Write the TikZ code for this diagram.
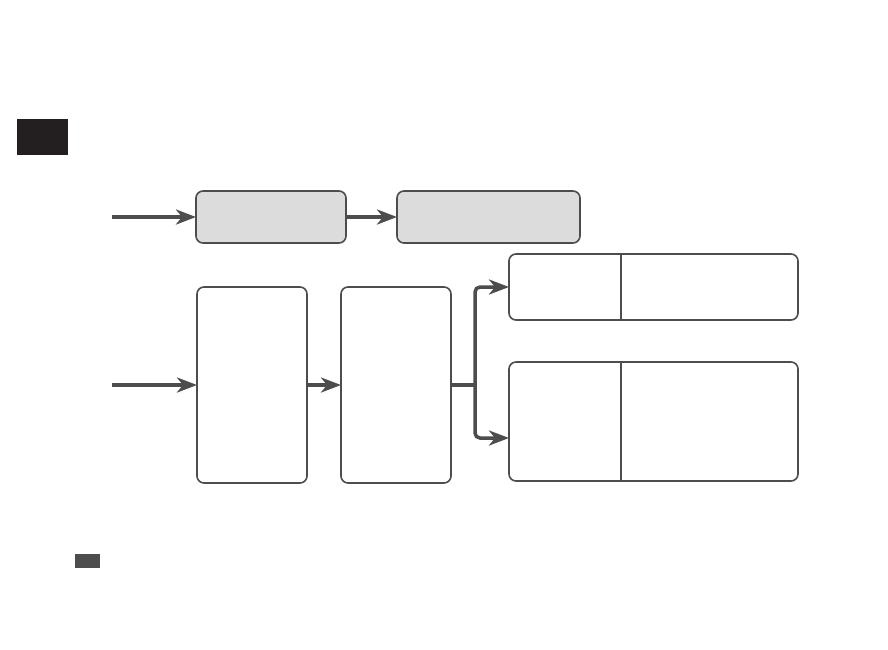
\documentclass[tikz,border=0pt]{standalone}
\usepackage{tikz}
\usetikzlibrary{arrows.meta}

\definecolor{linegray}{HTML}{4D4D4D}
\definecolor{boxgray}{HTML}{DCDCDC}
\definecolor{tabblack}{HTML}{231F20}

\tikzset{
  box/.style={shape=rectangle,draw=linegray,line width=1.6pt,rounded corners=7pt,inner sep=0pt,outer sep=0pt},
  flow/.style={draw=linegray,line width=3.5pt,-{Stealth[length=20pt,width=15pt,inset=6pt]}}
}

\begin{document}
\begin{tikzpicture}[x=1pt,y=-1pt]
\useasboundingbox (0,0) rectangle (888,649);
\path node (tab) at (42.5,137) [shape=rectangle,fill=tabblack,minimum width=51pt,minimum height=36pt,inner sep=0pt] {}
      node (mark) at (87.5,561) [shape=rectangle,fill=linegray,minimum width=25pt,minimum height=14pt,inner sep=0pt] {}
      node (a) at (271,217) [box,fill=boxgray,minimum width=150pt,minimum height=52pt] {}
      node (b) at (488.5,217) [box,fill=boxgray,minimum width=183pt,minimum height=52pt] {}
      node (c) at (252,385) [box,fill=white,minimum width=110pt,minimum height=196pt] {}
      node (d) at (396,385) [box,fill=white,minimum width=110pt,minimum height=196pt] {}
      node (e) at (653.5,287) [box,fill=white,minimum width=289pt,minimum height=66pt] {}
      node (f) at (653.5,421.5) [box,fill=white,minimum width=289pt,minimum height=119pt] {};
\coordinate (ina) at (112,217);
\coordinate (inc) at (112,385);
\coordinate (split) at (475,385);
% dividers
\draw [linegray,line width=1.6pt] ([xshift=112pt]e.north west) -- ([xshift=112pt]e.south west);
\draw [linegray,line width=1.6pt] ([xshift=112pt]f.north west) -- ([xshift=112pt]f.south west);
% arrows
\draw [flow] (ina) to (a.west);
\draw [flow] (a) to (b);
\draw [flow] (inc) to (c.west);
\draw [flow] (c) to (d);
\draw [draw=linegray,line width=3.5pt] (d.east) -- (split);
\draw [flow,rounded corners=5pt] (split) |- (e.west);
\draw [flow,rounded corners=5pt] (split) |- ([yshift=-16.5pt]f.west);
\end{tikzpicture}
\end{document}
